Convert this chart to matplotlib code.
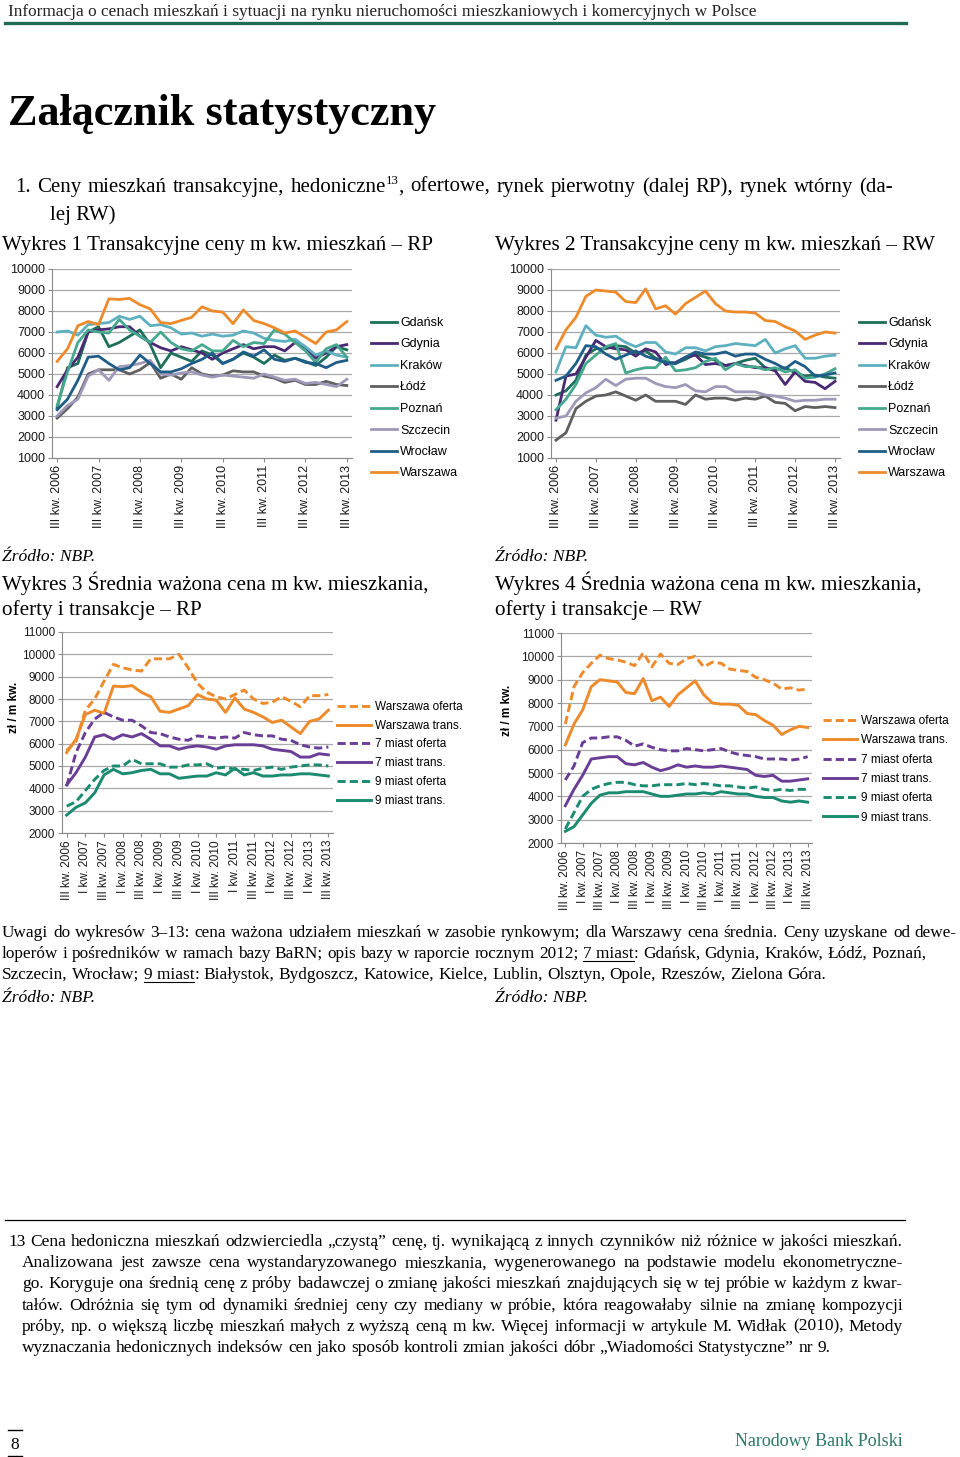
import matplotlib
matplotlib.use('Agg')
import matplotlib.pyplot as plt
from matplotlib.lines import Line2D

# ---------------- data ----------------
cities = ["Gdańsk", "Gdynia", "Kraków", "Łódź", "Poznań", "Szczecin", "Wrocław", "Warszawa"]
city_colors = ["#1d6e5a", "#4a2873", "#5eb0c0", "#5f5f5f", "#45a88f", "#9f98b8", "#1e5d88", "#ee8a2a"]

gdansk_rp = [3400, 5300, 5500, 7000, 7250, 6300, 6500, 6800, 7100, 6400, 5300, 6000, 5800, 5600, 6100, 5900, 5500, 5700, 6000, 5800, 5500, 5900, 5650, 5750, 5600, 5400, 5800, 6300, 6150]
gdynia_rp = [4400, 5200, 5800, 7000, 7100, 7150, 7250, 7250, 6800, 6500, 6250, 6100, 6300, 6150, 6000, 5700, 6000, 6200, 6400, 6200, 6300, 6300, 6100, 6500, 6250, 5750, 6000, 6300, 6400]
krakow_rp = [7000, 7050, 6850, 7350, 7400, 7450, 7750, 7600, 7750, 7300, 7350, 7200, 6900, 6950, 6800, 6900, 6800, 6850, 7050, 6950, 6700, 6600, 6550, 6650, 6300, 5900, 6100, 5900, 5800]
lodz_rp = [2900, 3350, 3900, 5000, 5200, 5200, 5200, 5000, 5200, 5550, 4800, 5000, 4750, 5300, 5000, 4900, 4950, 5150, 5100, 5100, 4900, 4800, 4600, 4700, 4500, 4500, 4650, 4500, 4450]
poznan_rp = [3500, 5100, 6500, 7100, 7000, 6950, 7600, 7100, 6800, 6500, 7000, 6500, 6200, 6100, 6400, 6100, 6100, 6600, 6300, 6500, 6450, 7100, 6900, 6500, 6100, 5550, 6200, 6400, 5800]
szczecin_rp = [3000, 3500, 3800, 4900, 5200, 4700, 5350, 5400, 5500, 5650, 5000, 4950, 5050, 5100, 4950, 4850, 4950, 4900, 4850, 4800, 5000, 4850, 4700, 4750, 4550, 4600, 4500, 4400, 4750]
wroclaw_rp = [3300, 3800, 4700, 5800, 5850, 5500, 5200, 5300, 5900, 5500, 5100, 5100, 5250, 5500, 5700, 6000, 5500, 5700, 6050, 5850, 6150, 5700, 5600, 5750, 5550, 5500, 5300, 5550, 5650]
warszawa_rp = [5600, 6200, 7300, 7500, 7350, 8580, 8550, 8600, 8300, 8100, 7450, 7400, 7550, 7700, 8200, 8000, 7950, 7400, 8050, 7550, 7400, 7200, 6950, 7050, 6750, 6450, 7000, 7100, 7500]

gdansk_rw = [4000, 4200, 4700, 5900, 6200, 6200, 6350, 6300, 6000, 6100, 5750, 5600, 5500, 5700, 5950, 5800, 5650, 5400, 5500, 5650, 5750, 5300, 5200, 5300, 5050, 4900, 4950, 4850, 4800]
gdynia_rw = [2800, 4900, 5000, 5800, 6600, 6300, 6200, 6150, 5850, 6200, 6050, 5450, 5550, 5800, 5900, 5450, 5500, 5400, 5500, 5400, 5300, 5300, 5150, 4500, 5100, 4650, 4600, 4300, 4650]
krakow_rw = [5100, 6300, 6250, 7300, 6850, 6750, 6800, 6500, 6300, 6500, 6500, 6050, 5950, 6250, 6250, 6100, 6300, 6350, 6450, 6400, 6350, 6650, 6000, 6200, 6350, 5750, 5750, 5850, 5900]
lodz_rw = [1850, 2200, 3350, 3700, 3950, 4000, 4150, 3950, 3750, 4000, 3700, 3700, 3700, 3550, 4000, 3800, 3850, 3850, 3750, 3850, 3800, 3950, 3650, 3600, 3250, 3450, 3400, 3450, 3400]
poznan_rw = [3300, 3800, 4500, 5500, 5900, 6300, 6450, 5050, 5200, 5300, 5300, 5800, 5150, 5200, 5300, 5600, 5750, 5200, 5500, 5350, 5350, 5200, 5300, 5100, 5200, 4800, 4850, 5000, 5250]
szczecin_rw = [2900, 3000, 3700, 4100, 4350, 4750, 4450, 4750, 4800, 4800, 4550, 4400, 4350, 4500, 4200, 4150, 4400, 4400, 4150, 4150, 4150, 4000, 3950, 3850, 3700, 3750, 3750, 3800, 3800]
wroclaw_rw = [4700, 4900, 5500, 6350, 6300, 5950, 5700, 5900, 6100, 5850, 5700, 5550, 5500, 5800, 6050, 5950, 5950, 6050, 5850, 5950, 5950, 5700, 5500, 5250, 5600, 5350, 4900, 4950, 5050]
warszawa_rw = [6200, 7100, 7700, 8700, 9000, 8950, 8900, 8450, 8400, 9050, 8100, 8250, 7850, 8350, 8650, 8950, 8350, 8000, 7950, 7950, 7900, 7550, 7500, 7250, 7050, 6650, 6850, 7000, 6950]

avg_labels = ["Warszawa oferta", "Warszawa trans.", "7 miast oferta", "7 miast trans.", "9 miast oferta", "9 miast trans."]
avg_colors = ["#ee8a2a", "#ee8a2a", "#6a3d96", "#6a3d96", "#1a8a70", "#1a8a70"]
avg_dashed = [True, False, True, False, True, False]

waw_oferta_rp = [5700, 6100, 7500, 8000, 8800, 9550, 9400, 9300, 9250, 9800, 9800, 9800, 10000, 9400, 8700, 8300, 8100, 8000, 8200, 8400, 8000, 7800, 7850, 8100, 7900, 7650, 8150, 8150, 8200]
waw_trans_rp = [5600, 6200, 7300, 7500, 7350, 8580, 8550, 8600, 8300, 8100, 7450, 7400, 7550, 7700, 8200, 8000, 7950, 7400, 8050, 7550, 7400, 7200, 6950, 7050, 6750, 6450, 7000, 7100, 7500]
m7_oferta_rp = [4100, 5600, 6500, 7100, 7400, 7200, 7050, 7050, 6800, 6500, 6450, 6300, 6200, 6150, 6350, 6300, 6250, 6300, 6250, 6500, 6400, 6350, 6350, 6200, 6150, 5950, 5850, 5800, 5850]
m7_trans_rp = [4150, 4700, 5400, 6300, 6400, 6200, 6400, 6300, 6450, 6200, 5900, 5900, 5750, 5850, 5900, 5850, 5750, 5900, 5950, 5950, 5950, 5900, 5750, 5700, 5650, 5400, 5400, 5550, 5500]
m9_oferta_rp = [3200, 3400, 3900, 4400, 4800, 5000, 5000, 5300, 5100, 5100, 5100, 4950, 4950, 5050, 5050, 5100, 4900, 4950, 4850, 4850, 4800, 4900, 4950, 4850, 4950, 5000, 5050, 5050, 5000]
m9_trans_rp = [2800, 3150, 3350, 3800, 4600, 4850, 4650, 4700, 4800, 4850, 4650, 4650, 4450, 4500, 4550, 4550, 4700, 4600, 4900, 4600, 4700, 4550, 4550, 4600, 4600, 4650, 4650, 4600, 4550]

waw_oferta_rw = [7100, 8700, 9300, 9700, 10050, 9900, 9850, 9750, 9600, 10150, 9550, 10100, 9700, 9650, 9900, 10000, 9550, 9750, 9700, 9450, 9400, 9350, 9100, 9000, 8850, 8600, 8650, 8550, 8600]
waw_trans_rw = [6200, 7100, 7700, 8700, 9000, 8950, 8900, 8450, 8400, 9050, 8100, 8250, 7850, 8350, 8650, 8950, 8350, 8000, 7950, 7950, 7900, 7550, 7500, 7250, 7050, 6650, 6850, 7000, 6950]
m7_oferta_rw = [4700, 5300, 6300, 6500, 6500, 6550, 6550, 6400, 6150, 6250, 6100, 6000, 5950, 5950, 6050, 6000, 5950, 6000, 6050, 5900, 5800, 5750, 5700, 5600, 5600, 5600, 5550, 5600, 5700]
m7_trans_rw = [3600, 4300, 4900, 5600, 5650, 5700, 5700, 5400, 5350, 5450, 5250, 5100, 5200, 5350, 5250, 5300, 5250, 5250, 5300, 5250, 5200, 5150, 4900, 4850, 4900, 4650, 4650, 4700, 4750]
m9_oferta_rw = [2600, 3300, 4000, 4300, 4450, 4550, 4600, 4600, 4500, 4450, 4450, 4500, 4500, 4500, 4550, 4500, 4550, 4500, 4450, 4450, 4400, 4350, 4400, 4300, 4250, 4300, 4250, 4300, 4300]
m9_trans_rw = [2500, 2700, 3200, 3700, 4050, 4150, 4150, 4200, 4200, 4200, 4100, 4000, 4000, 4050, 4100, 4100, 4150, 4100, 4200, 4150, 4100, 4100, 4000, 3950, 3950, 3800, 3750, 3800, 3750]

year_labels = ["III kw. 2006", "III kw. 2007", "III kw. 2008", "III kw. 2009", "III kw. 2010",
               "III kw. 2011", "III kw. 2012", "III kw. 2013"]
half_labels = ["III kw. 2006", "I kw. 2007", "III kw. 2007", "I kw. 2008", "III kw. 2008", "I kw. 2009",
               "III kw. 2009", "I kw. 2010", "III kw. 2010", "I kw. 2011", "III kw. 2011", "I kw. 2012",
               "III kw. 2012", "I kw. 2013", "III kw. 2013"]

# ---------------- figure ----------------
W, H, DPI = 960, 1457, 100
fig = plt.figure(figsize=(W / DPI, H / DPI), dpi=DPI, facecolor='white')
R = fig.canvas.get_renderer()
SERIF = ['Liberation Serif', 'DejaVu Serif']
SANS = ['Liberation Sans', 'DejaVu Sans']
PT = DPI / 72.0


def fx(x):
    return x / W


def fy(y):
    return 1 - y / H


def text_w(s, size, **kw):
    t = fig.text(0, 0, s, fontsize=size, **kw)
    w = t.get_window_extent(R).width
    t.remove()
    return w


def fit(s, width, **kw):
    return 20.0 * width / text_w(s, 20.0, **kw)


def put(x, y, s, size, ha='left', **kw):
    return fig.text(fx(x), fy(y), s, fontsize=size, ha=ha, va='baseline', **kw)


def words_of(s):
    return [[(w, {})] for w in s.split(' ')]


def layout_line(x0, y, words, size, x1=None, **kw):
    def pw(txt, opt):
        sz = size * 0.62 if opt.get('sup') else size
        return text_w(txt, sz, **kw)
    ws = [sum(pw(t, o) for t, o in wd) for wd in words]
    space = text_w('a a', size, **kw) - text_w('aa', size, **kw)
    if x1 is not None and len(words) > 1:
        gap = (x1 - x0 - sum(ws)) / (len(words) - 1)
    else:
        gap = space
    x = x0
    for wd, w in zip(words, ws):
        cx = x
        for txt, opt in wd:
            sz = size * 0.62 if opt.get('sup') else size
            yy = y - size * PT * 0.38 if opt.get('sup') else y
            put(cx, yy, txt, sz, **kw)
            p = pw(txt, opt)
            if opt.get('ul'):
                fig.add_artist(Line2D([fx(cx), fx(cx + p)], [fy(y + 2.5)] * 2,
                                      color='black', lw=0.8))
            cx += p
        x += w + gap


def natural(words, size, **kw):
    s = ' '.join(''.join(t for t, o in wd) for wd in words)
    return text_w(s, size, **kw)


# header
hdr = "Informacja o cenach mieszkań i sytuacji na rynku nieruchomości mieszkaniowych i komercyjnych w Polsce"
put(8, 16, hdr, fit(hdr, 749, family=SERIF), family=SERIF, color='#222222')
fig.add_artist(Line2D([fx(5), fx(906)], [fy(22.5)] * 2, color='#1f6b55', lw=2.4))

title = "Załącznik statystyczny"
put(8, 125, title, fit(title, 429, family=SERIF, fontweight='bold'), family=SERIF,
    fontweight='bold')

# section heading
h_words = words_of("1. Ceny mieszkań transakcyjne,") + \
    [[("hedoniczne", {}), ("13", {'sup': True}), (",", {})]] + \
    words_of("ofertowe, rynek pierwotny (dalej RP), rynek wtórny (da-")
h_size = 20.0 * 878 / natural(h_words, 20.0, family=SERIF) * 0.99
layout_line(15, 192, h_words, h_size, x1=893, family=SERIF)
put(50, 220, "lej RW)", h_size, family=SERIF)

t1 = "Wykres 1 Transakcyjne ceny m kw. mieszkań – RP"
t2 = "Wykres 2 Transakcyjne ceny m kw. mieszkań – RW"
ts = fit(t1, 431, family=SERIF)
put(2, 250, t1, ts, family=SERIF)
put(495, 250, t2, fit(t2, 440, family=SERIF), family=SERIF)

body = 12.6
put(2, 561, "Źródło: NBP.", body, family=SERIF, style='italic')
put(495, 561, "Źródło: NBP.", body, family=SERIF, style='italic')

t3 = "Wykres 3 Średnia ważona cena m kw. mieszkania,"
t4 = "Wykres 4 Średnia ważona cena m kw. mieszkania,"
ts3 = fit(t3, 428, family=SERIF)
put(2, 590, t3, ts3, family=SERIF)
put(2, 615, "oferty i transakcje – RP", ts3, family=SERIF)
put(495, 590, t4, ts3, family=SERIF)
put(495, 615, "oferty i transakcje – RW", ts3, family=SERIF)

# notes
n1 = words_of("Uwagi do wykresów 3–13: cena ważona udziałem mieszkań w zasobie rynkowym; dla Warszawy cena średnia. Ceny uzyskane od dewe-")
n2 = words_of("loperów i pośredników w ramach bazy BaRN; opis bazy w raporcie rocznym 2012;") + \
    [[("7 miast", {'ul': True}), (":", {})]] + words_of("Gdańsk, Gdynia, Kraków, Łódź, Poznań,")
n3 = words_of("Szczecin, Wrocław;") + [[("9 miast", {'ul': True}), (":", {})]] + \
    words_of("Białystok, Bydgoszcz, Katowice, Kielce, Lublin, Olsztyn, Opole, Rzeszów, Zielona Góra.")
ns = min(20.0 * 955 / natural(n1, 20.0, family=SERIF), 20.0 * 925 / natural(n2, 20.0, family=SERIF))
layout_line(2, 937, n1, ns, x1=957, family=SERIF)
layout_line(2, 958, n2, ns, family=SERIF)
layout_line(2, 979, n3, ns, family=SERIF)
put(2, 1002, "Źródło: NBP.", body, family=SERIF, style='italic')
put(495, 1002, "Źródło: NBP.", body, family=SERIF, style='italic')

# footnote
fig.add_artist(Line2D([fx(5), fx(905)], [fy(1219.5)] * 2, color='black', lw=0.9))
f_lines = [
    "13 Cena hedoniczna mieszkań odzwierciedla „czystą” cenę, tj. wynikającą z innych czynników niż różnice w jakości mieszkań.",
    "Analizowana jest zawsze cena wystandaryzowanego mieszkania, wygenerowanego na podstawie modelu ekonometryczne-",
    "go. Koryguje ona średnią cenę z próby badawczej o zmianę jakości mieszkań znajdujących się w tej próbie w każdym z kwar-",
    "tałów. Odróżnia się tym od dynamiki średniej ceny czy mediany w próbie, która reagowałaby silnie na zmianę kompozycji",
    "próby, np. o większą liczbę mieszkań małych z wyższą ceną m kw. Więcej informacji w artykule M. Widłak (2010), Metody",
    "wyznaczania hedonicznych indeksów cen jako sposób kontroli zmian jakości dóbr „Wiadomości Statystyczne” nr 9.",
]
f_x0 = [8, 22, 22, 22, 22, 22]
f_w = [895, 881, 881, 881, 881, 815]
fs_ = min(20.0 * f_w[i] / text_w(f_lines[i], 20.0, family=SERIF) for i in range(5))
for i, ln in enumerate(f_lines):
    yb = 1246 + i * 21.2
    if i < 5:
        layout_line(f_x0[i], yb, words_of(ln), fs_, x1=f_x0[i] + f_w[i], family=SERIF)
    else:
        layout_line(f_x0[i], yb, words_of(ln), fs_, family=SERIF)

# page footer
fig.add_artist(Line2D([fx(8), fx(22)], [fy(1430)] * 2, color='black', lw=1.0))
fig.add_artist(Line2D([fx(8), fx(22)], [fy(1456)] * 2, color='black', lw=1.0))
put(15, 1449, "8", 12.5, ha='center', family=SERIF)
put(903, 1446, "Narodowy Bank Polski", 13.0, ha='right', family=SERIF, color='#2b7a68')


# ---------------- charts ----------------
def chart(l, t, r, b, ymin, ymax, n, tick_idx, tick_lbls, fs):
    ax = fig.add_axes([fx(l), fy(b), (r - l) / W, (b - t) / H])
    ax.set_xlim(-0.5, n - 0.5)
    ax.set_ylim(ymin, ymax)
    yt = list(range(ymin, ymax + 1, 1000))
    ax.set_yticks(yt)
    ax.set_yticklabels([str(v) for v in yt], family=SANS, fontsize=fs)
    ax.grid(axis='y', color='#a8a8a8', lw=0.9)
    ax.set_axisbelow(True)
    ax.spines[['top', 'right']].set_visible(False)
    ax.spines['left'].set_color('#8a8a8a')
    ax.spines['bottom'].set_color('#8a8a8a')
    ax.set_xticks(tick_idx)
    ax.set_xticklabels(tick_lbls, rotation=90, family=SANS, fontsize=fs)
    ax.tick_params(axis='both', direction='out', length=3, width=0.8, color='#8a8a8a',
                   pad=2, labelcolor='#1a1a1a')
    ax.set_facecolor('none')
    return ax


rp = [gdansk_rp, gdynia_rp, krakow_rp, lodz_rp, poznan_rp, szczecin_rp, wroclaw_rp, warszawa_rp]
rw = [gdansk_rw, gdynia_rw, krakow_rw, lodz_rw, poznan_rw, szczecin_rw, wroclaw_rw, warszawa_rw]
N = len(warszawa_rp)
yidx = list(range(0, N, 4))

for (l, r, data, legx) in [(52, 352, rp, 371), (551, 840, rw, 859)]:
    ax = chart(l, 269, r, 458, 1000, 10000, N, yidx, year_labels, 9)
    handles = []
    for name, col, ser in zip(cities, city_colors, data):
        h, = ax.plot(range(len(ser)), ser, color=col, lw=2.0, solid_joinstyle='round',
                     label=name)
        handles.append(h)
    ax.legend(handles=handles, loc='upper left', bbox_to_anchor=(fx(legx), fy(317)),
              bbox_transform=fig.transFigure, frameon=False,
              prop={'family': SANS, 'size': 9},
              handlelength=2.1, handletextpad=0.25, labelspacing=0.76,
              borderpad=0, borderaxespad=0)

avg_rp = [waw_oferta_rp, waw_trans_rp, m7_oferta_rp, m7_trans_rp, m9_oferta_rp, m9_trans_rp]
avg_rw = [waw_oferta_rw, waw_trans_rw, m7_oferta_rw, m7_trans_rw, m9_oferta_rw, m9_trans_rw]
hidx = list(range(0, N, 2))

for (l, t, r, b, data, legx, legy, lsp, labx, laby) in [
        (62, 632, 333, 833, avg_rp, 337, 701, 0.57, 20, 707),
        (561, 633, 812, 843, avg_rw, 823, 715, 0.62, 513, 710)]:
    ax = chart(l, t, r, b, 2000, 11000, N, hidx, half_labels, 8.5)
    handles = []
    for name, col, dsh, ser in zip(avg_labels, avg_colors, avg_dashed, data):
        if dsh:
            h, = ax.plot(range(len(ser)), ser, color=col, lw=2.1, dashes=(2.8, 1.4),
                         label=name)
        else:
            h, = ax.plot(range(len(ser)), ser, color=col, lw=2.1, label=name)
        handles.append(h)
    ax.legend(handles=handles, loc='upper left', bbox_to_anchor=(fx(legx), fy(legy)),
              bbox_transform=fig.transFigure, frameon=False,
              prop={'family': SANS, 'size': 8.5},
              handlelength=2.9, handletextpad=0.35, labelspacing=lsp,
              borderpad=0, borderaxespad=0)
    ax.set_ylabel("zł / m kw.", family=SANS, fontsize=8.5, fontweight='bold')
    ax.yaxis.set_label_coords((labx - l) / (r - l), (b - laby) / (b - t))

fig.savefig("out.png", dpi=DPI, facecolor='white')
